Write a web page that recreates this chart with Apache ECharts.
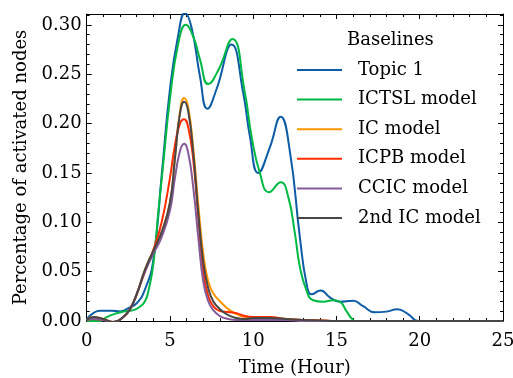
<!DOCTYPE html>
<html>
<head>
<meta charset="utf-8">
<script src="https://cdn.jsdelivr.net/npm/echarts@6/dist/echarts.min.js"></script>
<style>html,body{margin:0;padding:0;background:#fff}#c{width:513px;height:378px}</style>
</head>
<body>
<div id="c"></div>
<script>
// ---- data ----
var seriesNames = ['Topic 1', 'ICTSL model', 'IC model', 'ICPB model', 'CCIC model', '2nd IC model'];
var xTicks = [0, 5, 10, 15, 20, 25];
var yTicks = [0, 0.05, 0.10, 0.15, 0.20, 0.25, 0.30];

var hoursTopic = [0, 0.4, 0.8, 1.5, 2, 2.5, 3, 3.5, 4, 4.5, 5, 5.5, 5.9, 6.3, 6.8, 7.25, 7.8, 8.7, 9.4, 9.8, 10.3, 11, 11.65, 12.2, 12.8, 13.2, 13.5, 14.05, 14.6, 15.2, 16, 16.6, 17.3, 18, 18.65, 19.3, 19.9, 21, 25];
var topic1 = [0.002, 0.008, 0.0105, 0.0105, 0.0097, 0.013, 0.018, 0.032, 0.062, 0.147, 0.235, 0.29, 0.312, 0.297, 0.248, 0.215, 0.235, 0.28, 0.231, 0.187, 0.150, 0.176, 0.207, 0.172, 0.085, 0.038, 0.027, 0.031, 0.024, 0.0196, 0.0206, 0.015, 0.0088, 0.0095, 0.0118, 0.007, 0.0, 0, 0];

var hoursIctsl = [0, 0.8, 1.2, 1.8, 2.2, 2.8, 3.2, 3.5, 3.7, 4, 4.3, 4.6, 5, 5.5, 5.95, 6.4, 6.8, 7.3, 7.9, 8.75, 9.5, 9.9, 10.4, 10.95, 11.65, 12.1, 12.5, 12.8, 13.2, 13.6, 14.2, 14.8, 15.2, 15.6, 16, 16.4, 17, 25];
var ictsl = [0, 0.0, 0.004, 0.0078, 0.0095, 0.011, 0.0145, 0.02, 0.03, 0.057, 0.11, 0.16, 0.225, 0.281, 0.300, 0.288, 0.265, 0.240, 0.254, 0.2857, 0.231, 0.187, 0.15, 0.1305, 0.1406, 0.126, 0.089, 0.055, 0.031, 0.021, 0.0195, 0.021, 0.0196, 0.01, 0.001, -0.002, 0, 0];

var hoursModels = [0, 0.4, 1, 1.6, 2.2, 2.6, 3, 3.5, 4, 4.5, 5, 5.3, 5.6, 5.85, 6.1, 6.4, 6.7, 7, 7.3, 7.6, 8, 8.5, 9, 9.5, 10, 11, 12, 13, 14, 15, 25];
var icModel = [0.001, 0.004, 0.002, -0.001, 0.004, 0.012, 0.027, 0.052, 0.071, 0.09, 0.12, 0.165, 0.212, 0.2258, 0.216, 0.175, 0.118, 0.068, 0.04, 0.028, 0.02, 0.012, 0.007, 0.004, 0.003, 0.003, 0.002, 0.001, 0.0005, 0, 0];
var icpbModel = [0.001, 0.002, 0.001, -0.001, 0.004, 0.012, 0.027, 0.05, 0.072, 0.1, 0.145, 0.178, 0.2, 0.2045, 0.196, 0.163, 0.105, 0.05, 0.025, 0.015, 0.01, 0.009, 0.008, 0.005, 0.004, 0.004, 0.002, 0.001, 0.0005, 0, 0];
var ccicModel = [0.001, 0.002, 0.001, -0.001, 0.004, 0.012, 0.027, 0.05, 0.068, 0.085, 0.112, 0.145, 0.172, 0.1795, 0.17, 0.135, 0.085, 0.04, 0.02, 0.011, 0.005, 0.002, 0.001, 0.001, 0.001, 0.001, 0.001, 0, 0, 0, 0];
var secondIcModel = [0.001, 0.004, 0.002, -0.001, 0.004, 0.012, 0.027, 0.052, 0.071, 0.09, 0.12, 0.165, 0.21, 0.222, 0.212, 0.17, 0.11, 0.06, 0.033, 0.02, 0.012, 0.006, 0.003, 0.002, 0.003, 0.003, 0.002, 0.001, 0.0005, 0, 0];

var colors = ['#0C5DA5', '#00B945', '#FF9500', '#FF2C00', '#845B97', '#474747'];

// ---- build ----
function pairs(xs, ys) { return xs.map(function (x, i) { return [x, ys[i]]; }); }
var seriesData = [
  pairs(hoursTopic, topic1),
  pairs(hoursIctsl, ictsl),
  pairs(hoursModels, icModel),
  pairs(hoursModels, icpbModel),
  pairs(hoursModels, ccicModel),
  pairs(hoursModels, secondIcModel)
];
var yMinor = [];
for (var k = 0; k <= 31; k++) yMinor.push(+(k * 0.01).toFixed(2));

var FONT = 'DejaVu Serif';
var YMAX = 0.311;

function xAx(pos, labels) {
  return {
    type: 'value', position: pos, min: 0, max: 25, interval: 5,
    axisLine: { show: true, onZero: false, lineStyle: { color: '#000', width: 1 } },
    axisTick: { show: true, inside: true, length: 5, lineStyle: { color: '#000', width: 1 } },
    minorTick: { show: true, splitNumber: 5, length: 3, lineStyle: { color: '#000', width: 1 } },
    splitLine: { show: false }, minorSplitLine: { show: false },
    axisLabel: { show: labels, margin: 11, color: '#000', fontFamily: FONT, fontSize: 18 },
    name: labels ? 'Time (Hour)' : '', nameLocation: 'middle', nameGap: 38,
    nameTextStyle: { color: '#000', fontFamily: FONT, fontSize: 18 }
  };
}
function yAx(pos, major, labels) {
  return {
    type: 'value', position: pos, min: 0, max: YMAX,
    axisLine: { show: major, onZero: false, lineStyle: { color: '#000', width: 1 } },
    axisTick: { show: true, inside: true, length: major ? 5 : 3, customValues: major ? yTicks : yMinor, lineStyle: { color: '#000', width: 1 } },
    splitLine: { show: false },
    axisLabel: { show: labels, customValues: yTicks, margin: 5, color: '#000', fontFamily: FONT, fontSize: 18,
      formatter: function (v) { return v.toFixed(2); } },
    name: labels ? 'Percentage of activated nodes' : '', nameLocation: 'middle', nameGap: 54,
    nameTextStyle: { color: '#000', fontFamily: FONT, fontSize: 18 }
  };
}

var chart = echarts.init(document.getElementById('c'), null, { renderer: 'canvas' });
chart.setOption({
  animation: false,
  backgroundColor: '#fff',
  color: colors,
  grid: { left: 86.7, right: 10, top: 14, bottom: 57, containLabel: false, outerBoundsMode: 'none' },
  title: { text: 'Baselines', left: 347, top: 31, padding: 0,
    textStyle: { fontFamily: FONT, fontSize: 18, fontWeight: 'normal', color: '#000' } },
  legend: {
    orient: 'vertical', left: 296, top: 61, padding: 0,
    itemWidth: 45, itemHeight: 18, itemGap: 11.6,
    itemStyle: { color: 'rgba(0,0,0,0)', borderColor: 'rgba(0,0,0,0)', borderWidth: 0 },
    lineStyle: { width: 2 },
    textStyle: { fontFamily: FONT, fontSize: 18, color: '#000', padding: [0, 0, 0, 11] },
    data: seriesNames
  },
  xAxis: [xAx('bottom', true), xAx('top', false)],
  yAxis: [yAx('left', true, true), yAx('left', false, false), yAx('right', true, false), yAx('right', false, false)],
  series: seriesNames.map(function (n, i) {
    return {
      name: n, type: 'line', data: seriesData[i], smooth: 0.5, symbol: 'none',
      xAxisIndex: 0, yAxisIndex: 0,
      lineStyle: { width: 2, color: colors[i] }, itemStyle: { color: colors[i] }
    };
  })
});
</script>
</body>
</html>
